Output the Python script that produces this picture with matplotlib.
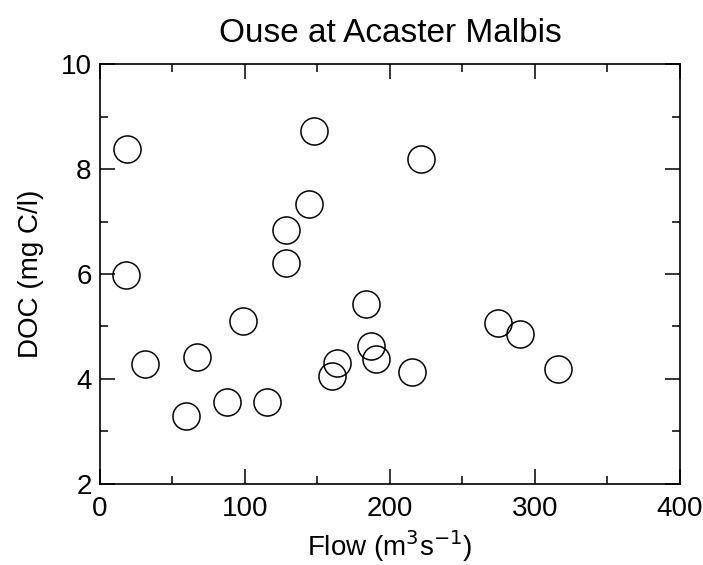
import matplotlib
matplotlib.use("Agg")
import matplotlib.pyplot as plt
from matplotlib.ticker import MultipleLocator

# Flow (m3/s) and DOC (mg C/l)
flow = [18.8, 17.7, 31.0, 59.1, 67.1, 87.8, 98.9, 115.4, 128.3, 128.0, 144.4,
        147.6, 160.2, 163.2, 183.2, 186.9, 190.3, 215.4, 221.2, 274.7, 289.7, 316.0]
doc = [8.39, 5.99, 4.29, 3.30, 4.42, 3.57, 5.10, 3.57, 6.84, 6.20, 7.33,
       8.72, 4.06, 4.31, 5.42, 4.62, 4.38, 4.14, 8.19, 5.06, 4.85, 4.19]

plt.rcParams["font.family"] = ["Liberation Sans", "DejaVu Sans"]

fig = plt.figure(figsize=(7.03, 5.65), dpi=100)
ax = fig.add_axes([0.1422, 0.1434, 0.8248, 0.7433])

ax.plot(flow, doc, "o", ms=19.5, mfc="none", mec="black", mew=1.1)

ax.set_xlim(0, 400)
ax.set_ylim(2, 10)
ax.xaxis.set_major_locator(MultipleLocator(100))
ax.xaxis.set_minor_locator(MultipleLocator(50))
ax.yaxis.set_major_locator(MultipleLocator(2))
ax.yaxis.set_minor_locator(MultipleLocator(1))
ax.tick_params(which="both", direction="in", top=True, right=True, labelsize=20, width=1.1)
ax.tick_params(which="major", length=11, pad=6)
ax.tick_params(which="minor", length=6)
ax.tick_params(axis="x", which="major", pad=9)
for s in ax.spines.values():
    s.set_linewidth(1.2)

ax.set_title("Ouse at Acaster Malbis", fontsize=24, pad=16)
ax.set_xlabel("Flow (m$^3$s$^{-1}$)", fontsize=20, labelpad=4)
ax.set_ylabel("DOC (mg C/l)", fontsize=20, labelpad=12)

fig.savefig("out.png", dpi=100)
